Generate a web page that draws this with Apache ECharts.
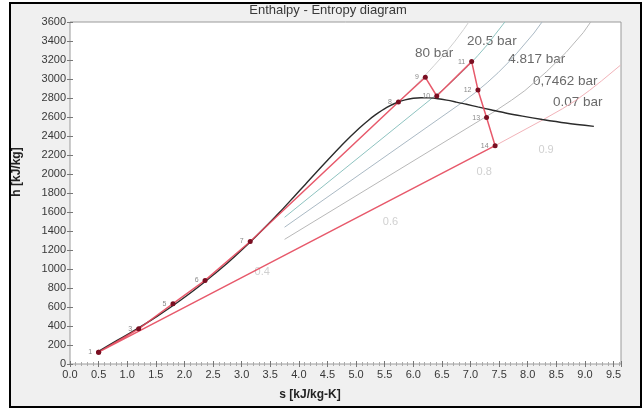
<!DOCTYPE html>
<html>
<head>
<meta charset="utf-8">
<script src="https://cdn.jsdelivr.net/npm/echarts@6/dist/echarts.min.js"></script>
<style>
  html, body { margin: 0; padding: 0; background: #ffffff; }
  #chart { width: 643px; height: 410px; }
</style>
</head>
<body>
<div id="chart"></div>
<script>
// Saturation dome of water, [s kJ/kg-K, h kJ/kg]: liquid side, critical point, vapour side
const domeCurve = [
  [0.52, 140], [0.831, 251], [1.075, 335], [1.307, 419], [1.528, 504], [1.739, 589],
  [1.943, 676], [2.139, 763], [2.331, 852], [2.518, 944], [2.702, 1037], [2.884, 1135],
  [3.067, 1237], [3.254, 1345], [3.448, 1462], [3.659, 1594], [3.915, 1761], [4.112, 1890],
  [4.407, 2084], [4.80, 2334], [5.054, 2482], [5.212, 2564], [5.336, 2622], [5.537, 2701],
  [5.706, 2750], [5.857, 2780], [5.999, 2797], [6.136, 2803], [6.274, 2801], [6.430, 2792],
  [6.584, 2777], [6.749, 2757], [6.929, 2734], [7.127, 2706], [7.354, 2676], [7.612, 2642],
  [7.908, 2609], [8.256, 2574], [8.666, 2537], [9.156, 2501]
];

// Isobars: straight inside the dome, curving upward in the superheated region
const isobar80 = [[5.74, 2758], [5.79, 2786], [6.13, 2988], [6.36, 3139], [6.56, 3273], [6.73, 3399], [6.88, 3521], [6.97, 3600]];
const isobar20p5 = [[3.75, 1544], [6.33, 2799], [6.55, 2903], [6.77, 3024], [6.96, 3137], [7.13, 3248], [7.29, 3358], [7.43, 3468], [7.60, 3600]];
const isobar4p817 = [[3.75, 1440], [6.84, 2747], [7.08, 2855], [7.29, 2961], [7.48, 3065], [7.65, 3168], [7.81, 3272], [8.11, 3484], [8.25, 3600]];
const isobar0p7462 = [[3.75, 1312], [7.43, 2662], [7.72, 2778], [7.95, 2878], [8.33, 3078], [8.67, 3280], [8.97, 3488], [9.10, 3600]];
const isobar0p07 = [[7.43, 2298], [8.27, 2572], [8.61, 2688], [8.86, 2783], [9.08, 2880], [9.29, 2980], [9.49, 3080], [9.62, 3145]];

// Cycle state points [s, h] and their numbers
const cycleStates = [
  [0.50, 125], [1.20, 370], [1.80, 635], [2.36, 880], [3.15, 1290],
  [5.74, 2758], [6.21, 3018], [6.41, 2821], [7.02, 3183], [7.13, 2885],
  [7.28, 2594], [7.43, 2298], [0.50, 125]
];
const stateNumbers = ['1', '3', '5', '6', '7', '8', '9', '10', '11', '12', '13', '14', ''];

// Isobar tags
const pressureTags = [
  [6.03, 3275, '80 bar'], [6.94, 3401, '20.5 bar'], [7.66, 3212, '4.817 bar'],
  [8.09, 2980, '0,7462 bar'], [8.44, 2759, '0.07 bar']
];

// Dryness fraction marks
const qualityTags = [[3.36, 965, '0.4'], [5.60, 1495, '0.6'], [7.24, 2022, '0.8'], [8.32, 2253, '0.9']];

const FONT = 'Liberation Sans, Arial, sans-serif';
const chart = echarts.init(document.getElementById('chart'), null, { renderer: 'canvas' });

const halfStep = v => Math.abs(v * 2 - Math.round(v * 2)) < 1e-6;

chart.setOption({
  backgroundColor: '#ffffff',
  animation: false,
  graphic: [
    { type: 'rect', z: -10, shape: { x: 10, y: 3, width: 631, height: 404 },
      style: { fill: '#f0f0f0', stroke: '#000000', lineWidth: 2 } },
    { type: 'text', x: 328, y: 4,
      style: { text: 'Enthalpy - Entropy diagram', font: '13px ' + FONT, fill: '#3a3a3a', textAlign: 'center' } },
    { type: 'text', x: 310, y: 389,
      style: { text: 's [kJ/kg-K]', font: 'bold 12px ' + FONT, fill: '#222222', textAlign: 'center' } },
    { type: 'text', x: 11, y: 172, rotation: Math.PI / 2,
      style: { text: 'h [kJ/kg]', font: 'bold 12px ' + FONT, fill: '#222222', textAlign: 'center' } }
  ],
  grid: { left: 70, top: 22, width: 551, height: 342, show: true, backgroundColor: '#ffffff', borderColor: '#9a9a9a', borderWidth: 1 },
  xAxis: [
    { type: 'value', min: 0, max: 9.63, interval: 0.5,
      axisLine: { show: false }, splitLine: { show: false },
      axisTick: { show: true, inside: true, length: 3, lineStyle: { color: '#777' } },
      minorTick: { show: true, splitNumber: 5, length: 2, lineStyle: { color: '#aaa' } },
      axisLabel: { color: '#383838', fontSize: 11, fontFamily: FONT, margin: 5,
        formatter: v => halfStep(v) ? v.toFixed(1) : '' } },
    { type: 'value', position: 'top', min: 0, max: 9.63, interval: 0.5,
      axisLine: { show: false }, splitLine: { show: false }, axisLabel: { show: false },
      axisTick: { show: true, inside: true, length: 3, lineStyle: { color: '#777' } },
      minorTick: { show: true, splitNumber: 5, length: 2, lineStyle: { color: '#aaa' } } }
  ],
  yAxis: [
    { type: 'value', min: 0, max: 3600, interval: 200,
      axisLine: { show: false }, splitLine: { show: false },
      axisTick: { show: true, inside: true, length: 3, lineStyle: { color: '#777' } },
      axisLabel: { color: '#383838', fontSize: 11, fontFamily: FONT, margin: 4,
        formatter: v => String(v) } },
    { type: 'value', position: 'right', min: 0, max: 3600, interval: 200,
      axisLine: { show: false }, splitLine: { show: false }, axisLabel: { show: false },
      axisTick: { show: true, inside: true, length: 3, lineStyle: { color: '#777' } } }
  ],
  series: [
    { name: '80 bar', type: 'line', data: isobar80, symbol: 'none',
      lineStyle: { color: '#cfcfcf', width: 1 } },
    { name: '20.5 bar', type: 'line', data: isobar20p5, symbol: 'none',
      lineStyle: { color: '#8ec3c0', width: 1 } },
    { name: '4.817 bar', type: 'line', data: isobar4p817, symbol: 'none',
      lineStyle: { color: '#aab9c4', width: 1 } },
    { name: '0.7462 bar', type: 'line', data: isobar0p7462, symbol: 'none',
      lineStyle: { color: '#b8b8b8', width: 1 } },
    { name: '0.07 bar', type: 'line', data: isobar0p07, symbol: 'none',
      lineStyle: { color: '#f2b3b9', width: 1 } },
    { name: 'saturation', type: 'line', data: domeCurve, symbol: 'none', smooth: 0.3,
      lineStyle: { color: '#2b2b2b', width: 1.4 } },
    { name: 'cycle', type: 'line', data: cycleStates, symbol: 'circle', symbolSize: 5,
      itemStyle: { color: '#7a0f22' },
      lineStyle: { color: '#e4475b', width: 1.5, opacity: 0.9 },
      label: { show: true, position: 'left', distance: 4, fontSize: 7, color: '#8a8a8a', fontFamily: FONT,
        formatter: p => stateNumbers[p.dataIndex] } },
    { name: 'pressures', type: 'scatter', data: pressureTags, symbolSize: 0,
      label: { show: true, position: 'right', distance: 0, fontSize: 13.5, color: '#444', fontFamily: FONT,
        formatter: p => p.value[2] } },
    { name: 'quality', type: 'scatter', data: qualityTags, symbolSize: 0,
      label: { show: true, position: 'inside', fontSize: 11, color: '#c4c4c4', fontFamily: FONT,
        formatter: p => p.value[2] } }
  ]
});
</script>
</body>
</html>
